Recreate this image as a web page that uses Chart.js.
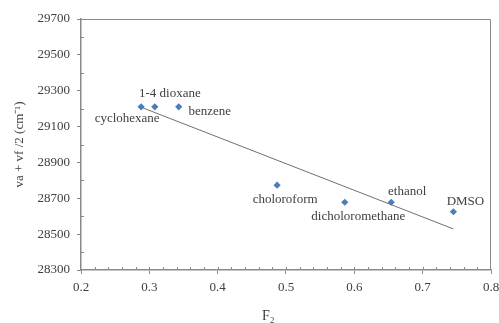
<!DOCTYPE html>
<html><head><meta charset="utf-8">
<script src="https://cdn.jsdelivr.net/npm/chart.js@4/dist/chart.umd.min.js"></script>
<style>html,body{margin:0;padding:0;background:#fff}#w{width:499px;height:323px}</style>
</head><body><div id="w"><canvas id="c"></canvas></div>
<script>
const solvents = ['cyclohexane','1-4 dioxane','benzene','choloroform','dicholoromethane','ethanol','DMSO'];
const f2Values = [0.288, 0.308, 0.343, 0.487, 0.586, 0.654, 0.745];
const waveValues = [29210, 29210, 29210, 28773, 28678, 28678, 28625];
const trendX = [0.288, 0.745];
const trendY = [29208, 28529];
const xTickValues = [0.2, 0.3, 0.4, 0.5, 0.6, 0.7, 0.8];
const yTickValues = [28300, 28500, 28700, 28900, 29100, 29300, 29500, 29700];
const xAxisTitle = 'F\u2082';
const yAxisTitle = 'va + vf /2 (cm\u207B\u00B9)';

// label offsets (px) relative to each marker
const labelOffsets = [[-14,12],[15,-13],[31,5],[8,14],[13.5,14],[16,-11],[12,-10]];

const FONT = 'Liberation Serif';
const TXT = '#404040';

const points = f2Values.map((x,i)=>({x, y: waveValues[i]}));
const trend = trendX.map((x,i)=>({x, y: trendY[i]}));

const deco = {
  id: 'deco',
  afterDatasetsDraw(chart) {
    const {ctx, chartArea: a, scales: {x, y}} = chart;
    ctx.save();
    ctx.strokeStyle = '#8a8a8a';
    ctx.lineWidth = 1;
    ctx.beginPath();
    ctx.moveTo(a.left, a.top + 0.5); ctx.lineTo(a.right - 0.5, a.top + 0.5); ctx.lineTo(a.right - 0.5, a.bottom);
    ctx.stroke();
    ctx.beginPath();
    for (let v = 0.22; v < 0.8; v += 0.02) {
      const px = Math.round(x.getPixelForValue(v)) + 0.5;
      ctx.moveTo(px, a.bottom); ctx.lineTo(px, a.bottom - 3);
    }
    for (let v = 28400; v < 29700; v += 200) {
      const py = Math.round(y.getPixelForValue(v)) + 0.5;
      ctx.moveTo(a.left, py); ctx.lineTo(a.left + 3, py);
    }
    ctx.stroke();
    ctx.fillStyle = TXT;
    ctx.font = '13px "' + FONT + '"';
    ctx.textAlign = 'center';
    ctx.textBaseline = 'middle';
    const meta = chart.getDatasetMeta(1);
    meta.data.forEach((el, i) => {
      const o = labelOffsets[i];
      ctx.fillText(solvents[i], el.x + o[0], el.y + o[1]);
    });
    ctx.font = '14px "' + FONT + '"';
    ctx.fillText(xAxisTitle, x.getPixelForValue(0.474), 316);
    ctx.restore();
  }
};

new Chart(document.getElementById('c'), {
  type: 'scatter',
  data: {
    datasets: [
      { type: 'line', data: trend, borderColor: '#707070', borderWidth: 1, pointRadius: 0, fill: false, tension: 0 },
      { data: points, pointStyle: 'rectRot', pointRadius: 3.6, pointHoverRadius: 3.6, backgroundColor: '#4a7ebb', borderColor: '#4a7ebb', borderWidth: 0 }
    ]
  },
  options: {
    responsive: true,
    maintainAspectRatio: false,
    animation: false,
    events: [],
    layout: { padding: { top: 19, right: 8, left: 0, bottom: 0 } },
    plugins: { legend: { display: false }, tooltip: { enabled: false } },
    scales: {
      x: {
        type: 'linear', min: 0.2, max: 0.8,
        afterBuildTicks: s => { s.ticks = xTickValues.map(v => ({value: v})); },
        afterFit: s => { s.height = 53; s.paddingLeft = 0; s.paddingRight = 0; },
        ticks: { color: TXT, font: { family: FONT, size: 13 }, padding: 6, callback: v => v.toFixed(1) },
        grid: { display: true, drawOnChartArea: false, drawTicks: true, tickLength: 4, color: '#8a8a8a' },
        border: { display: true, color: '#8a8a8a', width: 1.5 }
      },
      y: {
        type: 'linear', min: 28300, max: 29700,
        afterBuildTicks: s => { s.ticks = yTickValues.map(v => ({value: v})); },
        afterFit: s => { s.width = 81; s.paddingTop = 0; s.paddingBottom = 0; },
        ticks: { color: TXT, font: { family: FONT, size: 13 }, padding: 7, callback: v => String(v) },
        grid: { display: true, drawOnChartArea: false, drawTicks: true, tickLength: 4, color: '#8a8a8a' },
        border: { display: true, color: '#8a8a8a', width: 1.5 },
        title: { display: true, text: yAxisTitle, color: TXT, font: { family: FONT, size: 13 }, padding: { top: 12, bottom: 0 } }
      }
    }
  },
  plugins: [deco]
});
</script>
</body></html>
